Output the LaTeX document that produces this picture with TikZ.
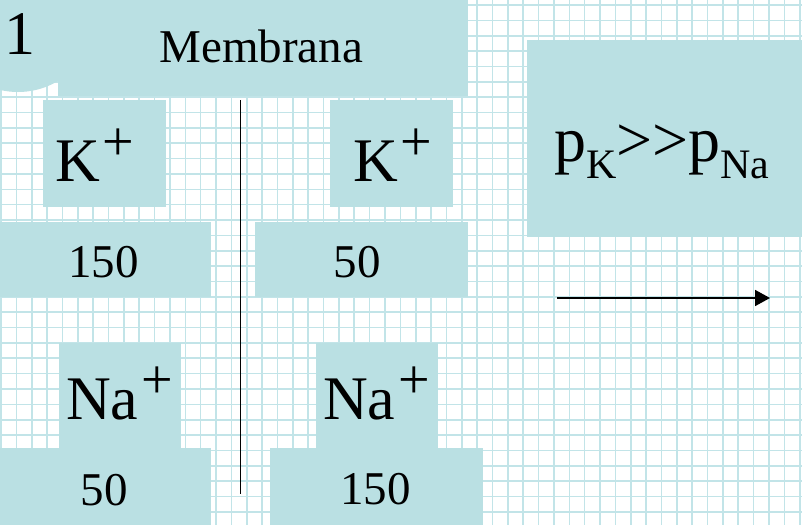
\documentclass[tikz,border=0pt]{standalone}
\usepackage{fontspec}
\setmainfont{Liberation Serif}
\usetikzlibrary{arrows.meta}
\definecolor{boxc}{RGB}{186,224,227}
\definecolor{gridc}{RGB}{194,228,232}
\newcommand\mysup[1]{\kern3pt\raisebox{21pt}{\fontsize{56}{56}\selectfont #1}}
\newcommand\mysub[1]{\raisebox{-17pt}{\fontsize{42}{42}\selectfont #1}}
\begin{document}
\begin{tikzpicture}[x=1pt,y=-1pt,
  box/.style={fill=boxc, draw=none, inner sep=0, outer sep=0, rectangle, anchor=north west},
  lbl/.style={inner sep=0, outer sep=0, anchor=base west},
  big/.style={font=\fontsize{62}{62}\selectfont},
  huge/.style={font=\fontsize{64}{64}\selectfont},
  mid/.style={font=\fontsize{47}{47}\selectfont},
  gridline/.style={gridc, line width=1.6pt},
  rule/.style={black, line width=1.8pt}
]
\useasboundingbox (0,0) rectangle (802,525);
\fill[white] (0,0) rectangle (802,525);
\foreach \k in {0,...,52} \draw[gridline] ({1+15.36*\k},0) -- ({1+15.36*\k},525);
\foreach \k in {0,...,34} \draw[gridline] (0,{5+15.36*\k}) -- (802,{5+15.36*\k});
% boxes
\node[circle, fill=boxc, inner sep=0, minimum size=156pt] (numc) at (18,14) {};
\node[box, minimum width=410pt, minimum height=96pt] (top) at (58,0) {};
\node[box, minimum width=123pt, minimum height=107pt] (kl) at (43,100) {};
\node[box, minimum width=123pt, minimum height=107pt] (kr) at (330,100) {};
\node[box, minimum width=211pt, minimum height=75pt] (cl1) at (0,222) {};
\node[box, minimum width=213pt, minimum height=75pt] (cr1) at (255,222) {};
\node[box, minimum width=275pt, minimum height=197pt] (pk) at (527,40) {};
\node[box, minimum width=122pt, minimum height=105pt] (nal) at (59,343) {};
\node[box, minimum width=122pt, minimum height=105pt] (nar) at (316,343) {};
\node[box, minimum width=211pt, minimum height=77pt] (cl2) at (0,448) {};
\node[box, minimum width=213pt, minimum height=77pt] (cr2) at (270,448) {};
% texts
\node[lbl, big] (one) at (5,54) {1};
\node[lbl, mid] (mem) at (159.5,62) {Membrana};
\node[lbl, big] (kltx) at (55,181) {K\mysup{+}};
\node[lbl, big] (krtx) at (353,181) {K\mysup{+}};
\node[lbl, mid] (n150a) at (68,277) {150};
\node[lbl, mid] (n50a) at (333.5,277) {50};
\node[lbl, big] (naltx) at (66,419) {Na\mysup{+}};
\node[lbl, big] (nartx) at (323,419) {Na\mysup{+}};
\node[lbl, mid] (n50b) at (80.5,505) {50};
\node[lbl, mid] (n150b) at (340,504) {150};
\node[lbl, huge] (ptx) at (554,161) {p\mysub{K}>\kern0pt>p\mysub{Na}};
% membrane line and arrow
\coordinate (mtop) at (240.5,100);
\coordinate (mbot) at (240.5,494);
\draw[rule] (mtop) -- (mbot);
\coordinate (ast) at (557,298);
\coordinate (aen) at (770,298);
\draw[rule, -{Triangle[length=15pt,width=16pt]}] (ast) -- (aen);
\end{tikzpicture}
\end{document}
